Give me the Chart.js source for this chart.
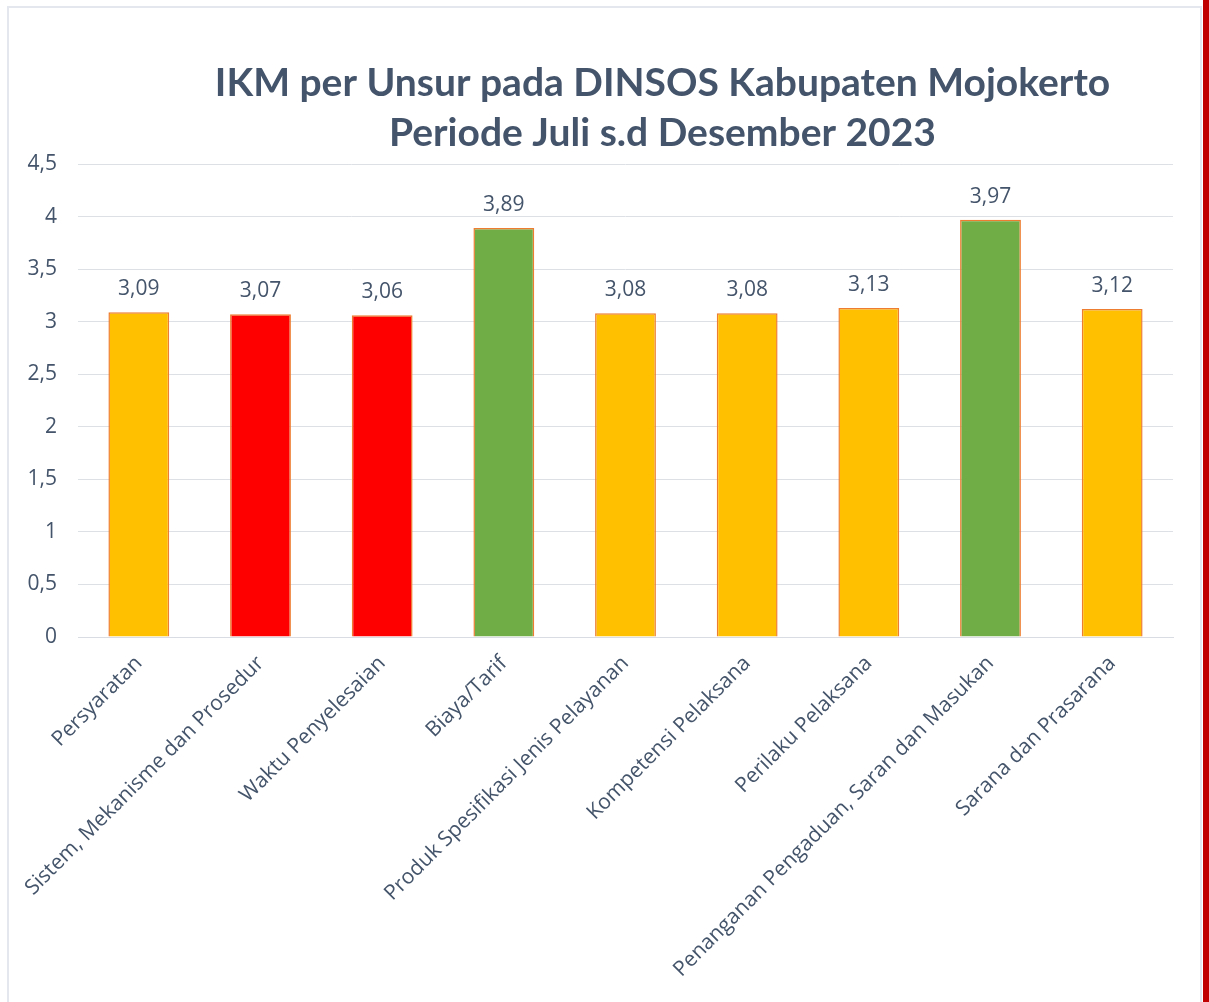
<!DOCTYPE html>
<html>
<head>
<meta charset="utf-8">
<script src="https://cdn.jsdelivr.net/npm/chart.js@4"></script>
<style>
  html, body { margin: 0; padding: 0; background: #fff; }
  #frame {
    position: absolute; left: 7px; top: 6px; width: 1191px; height: 1010px;
    border: 2px solid #e4e8ee; border-bottom: none;
  }
  #redbar { position: absolute; left: 1203px; top: 0; width: 6px; height: 1002px; background: #c00000; }
  #wrap { position: absolute; left: 0; top: 0; width: 1209px; height: 1002px; }
</style>
</head>
<body>
<div id="frame"></div>
<div id="redbar"></div>
<div id="wrap"><canvas id="chart" width="1209" height="1002"></canvas></div>
<script>
const titleLines = ["IKM per Unsur pada DINSOS Kabupaten Mojokerto", "Periode Juli s.d Desember 2023"];
const categories = [
  "Persyaratan",
  "Sistem, Mekanisme dan Prosedur",
  "Waktu Penyelesaian",
  "Biaya/Tarif",
  "Produk Spesifikasi Jenis Pelayanan",
  "Kompetensi Pelaksana",
  "Perilaku Pelaksana",
  "Penanganan Pengaduan, Saran dan Masukan",
  "Sarana dan Prasarana"
];
const values = [3.09, 3.07, 3.06, 3.89, 3.08, 3.08, 3.13, 3.97, 3.12];
const barColors = ["#FFC000", "#FF0000", "#FF0000", "#70AD47", "#FFC000", "#FFC000", "#FFC000", "#70AD47", "#FFC000"];

const textColor = "#44546A";
const titleFont = "Lato, 'Open Sans', sans-serif";
const axisFont = "'Open Sans', Lato, sans-serif";
const comma = v => String(v).replace(".", ",");

// title sits a bit right of the plot centre, like the source
const titlePlugin = {
  id: "titleText",
  afterDraw(chart) {
    const ctx = chart.ctx;
    const cx = (chart.chartArea.left + chart.chartArea.right) / 2 + 37;
    ctx.save();
    ctx.fillStyle = textColor;
    ctx.font = "bold 39px " + titleFont;
    ctx.textAlign = "center";
    ctx.textBaseline = "middle";
    ctx.fillText(titleLines[0], cx, 83);
    ctx.fillText(titleLines[1], cx, 133);
    ctx.restore();
  }
};

const valueLabels = {
  id: "valueLabels",
  afterDatasetsDraw(chart) {
    const ctx = chart.ctx;
    const meta = chart.getDatasetMeta(0);
    ctx.save();
    ctx.fillStyle = textColor;
    ctx.font = "21px " + axisFont;
    ctx.textAlign = "center";
    ctx.textBaseline = "alphabetic";
    meta.data.forEach((bar, i) => {
      ctx.fillText(comma(values[i]), bar.x, bar.y - 17);
    });
    ctx.restore();
  }
};

new Chart(document.getElementById("chart"), {
  type: "bar",
  data: {
    labels: categories,
    datasets: [{
      data: values,
      backgroundColor: barColors,
      borderColor: "#ED7D31",
      borderWidth: 1.5,
      categoryPercentage: 1,
      barPercentage: 0.5
    }]
  },
  options: {
    responsive: false,
    animation: false,
    layout: { padding: { left: 20, right: 36, top: 164, bottom: 0 } },
    plugins: { legend: { display: false }, tooltip: { enabled: false } },
    scales: {
      x: {
        grid: { display: false, drawTicks: false },
        border: { display: true, color: "#d9dde3", width: 1 },
        ticks: {
          color: textColor,
          font: { family: axisFont, size: 21 },
          minRotation: 45, maxRotation: 45,
          autoSkip: false,
          padding: 14
        },
        afterFit(scale) { scale.height = 365; }
      },
      y: {
        min: 0, max: 4.5,
        grid: { color: "#dde1e6", lineWidth: 1, drawTicks: false },
        border: { display: false },
        ticks: {
          stepSize: 0.5,
          color: textColor,
          font: { family: axisFont, size: 21 },
          padding: 21,
          callback: v => comma(v)
        },
        afterFit(scale) { scale.width = 58; }
      }
    }
  },
  plugins: [titlePlugin, valueLabels]
});
</script>
</body>
</html>
